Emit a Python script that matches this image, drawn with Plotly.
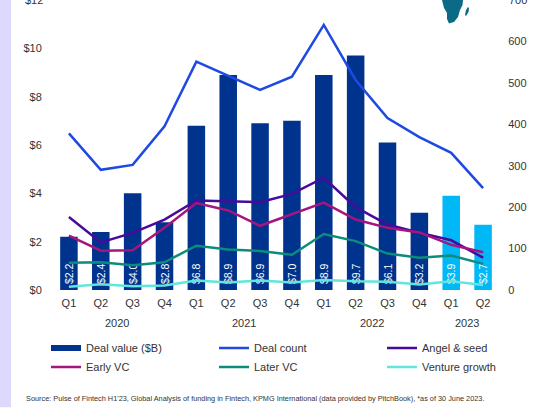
import plotly.graph_objects as go

quarters = ["Q1","Q2","Q3","Q4","Q1","Q2","Q3","Q4","Q1","Q2","Q3","Q4","Q1","Q2"]
years = ["2020","2021","2022","2023"]
year_centers = [1.5,5.5,9.5,12.5]
deal_value = [2.2,2.4,4.0,2.8,6.8,8.9,6.9,7.0,8.9,9.7,6.1,3.2,3.9,2.7]
deal_labels = ["$2.2","$2.4","$4.0","$2.8","$6.8","$8.9","$6.9","$7.0","$8.9","$9.7","$6.1","$3.2","$3.9","$2.7"]
deal_count = [378,290,302,395,551,517,483,515,640,507,415,369,331,246]
angel_seed = [176,115,138,170,216,214,212,232,271,200,158,138,120,78]
early_vc = [131,95,96,150,210,192,155,183,211,170,150,139,109,91]
later_vc = [66,67,60,67,107,98,94,85,135,118,88,78,83,63]
venture_growth = [8,14,9,11,23,18,23,18,24,21,20,13,21,12]
left_ticks = [0,2,4,6,8,10]
right_ticks = [0,100,200,300,400,500,600]
left_top_label = "$12"
right_top_label = "700"

NAVY="#00338D"; CYAN="#00B8F5"
x=list(range(len(quarters)))
W,H=533,408
L,R,T,B=53,34,0,117.5
PW=W-L-R; PH=H-T-B
FONT="Liberation Sans, Arial, sans-serif"
TXT="#333333"
CLEAR="rgba(0,0,0,0)"

fig=go.Figure()
fig.add_bar(x=x,y=deal_value,marker_color=[NAVY]*12+[CYAN]*2,marker_line_width=0,width=0.55,
    text=["\u00a0"+s for s in deal_labels],textposition="inside",insidetextanchor="start",textangle=-90,
    textfont=dict(color="white",size=10.5,family=FONT),constraintext="none",showlegend=False,name="Deal value ($B)",cliponaxis=False)
def line(name,y,c,lg,w=2.5):
    fig.add_scatter(x=x,y=y,name=name,yaxis="y2",mode="lines",line=dict(color=c,width=w),legend=lg)
fig.add_scatter(x=[None],y=[None],name="Deal value ($B)",mode="lines",line=dict(color=NAVY,width=6),legend="legend")
line("Deal count",deal_count,"#1E49E2","legend2")
line("Angel & seed",angel_seed,"#470A9B","legend3")
line("Early VC",early_vc,"#A5157F","legend")
line("Later VC",later_vc,"#0C8C7C","legend2")
line("Venture growth",venture_growth,"#62E6DC","legend3")

ann=[dict(x=c,y=0,xref="x",yref="paper",yshift=-32.5,text=t,showarrow=False,yanchor="middle",font=dict(size=11,color=TXT,family=FONT)) for c,t in zip(year_centers,years)]
ann.append(dict(x=(24-L)/PW,y=-(399.5-(H-B))/PH,xref="paper",yref="paper",xanchor="left",yanchor="middle",showarrow=False,
    text="Source: Pulse of Fintech H1'23, Global Analysis of funding in Fintech, KPMG International (data provided by PitchBook), *as of 30 June 2023.",
    font=dict(size=7.33,color=TXT,family=FONT)))
ann.append(dict(x=0,y=1,xref="paper",yref="paper",xshift=-8,xanchor="right",yanchor="middle",showarrow=False,text=left_top_label,font=dict(size=11,color=TXT,family=FONT)))
ann.append(dict(x=1,y=1,xref="paper",yref="paper",xshift=8,xanchor="left",yanchor="middle",showarrow=False,text=right_top_label,font=dict(size=11,color=TXT,family=FONT)))

def px(a): return (a-L)/PW
def py(b): return (H-B-b)/PH
africa=[(442,0),(463,0),(462.5,5),(460,10),(458,17),(454,22),(449,23.5),(447,19),(447,13),(444,8)]
madag=[(468,7),(469,8),(468.5,12),(466,16),(465,15),(466,10)]
def path(pts):
    return "M "+" L ".join(f"{px(a):.4f},{py(b):.4f}" for a,b in pts)+" Z"
shapes=[dict(type="rect",xref="paper",yref="paper",x0=px(0),x1=px(11),y0=py(H),y1=py(0),fillcolor="#DDD9FC",line_width=0,layer="below"),
        dict(type="path",xref="paper",yref="paper",path=path(africa),fillcolor="#0B6B86",line_width=0),
        dict(type="path",xref="paper",yref="paper",path=path(madag),fillcolor="#0B6B86",line_width=0)]

def lg(left):
    return dict(orientation="v",x=px(left),y=py(334),xanchor="left",yanchor="top",font=dict(size=11,color=TXT,family=FONT),
                bgcolor=CLEAR,itemwidth=30,tracegroupgap=0)

fig.update_layout(width=W,height=H,margin=dict(l=L,r=R,t=T,b=B,autoexpand=False),paper_bgcolor="white",plot_bgcolor="white",
    font=dict(family=FONT,size=11,color=TXT),annotations=ann,shapes=shapes,
    xaxis=dict(range=[-0.5,13.5],tickmode="array",tickvals=x,ticktext=quarters,showgrid=False,zeroline=False,showline=False,ticks="outside",ticklen=3,tickcolor=CLEAR,tickangle=0),
    yaxis=dict(range=[0,12],tickmode="array",tickvals=left_ticks,ticktext=[f"${v}" for v in left_ticks],showgrid=False,zeroline=False,ticks="outside",ticklen=8,tickcolor=CLEAR),
    yaxis2=dict(range=[0,700],tickmode="array",tickvals=right_ticks,overlaying="y",side="right",showgrid=False,zeroline=False,ticks="outside",ticklen=6,tickcolor=CLEAR),
    legend=lg(46),legend2=lg(214),legend3=lg(382))
fig.write_html("out.html",config={"displayModeBar":False},post_script="document.body.style.margin='0';document.documentElement.style.overflow='hidden';")
